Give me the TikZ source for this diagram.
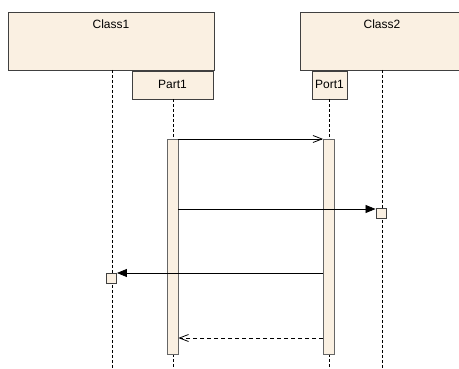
\documentclass[tikz,border=0pt]{standalone}
\usepackage{fontspec}
\setmainfont{Liberation Sans}
\usetikzlibrary{arrows.meta}
\definecolor{beige}{HTML}{FAF0E2}
\definecolor{edge}{HTML}{404040}
\begin{document}
\begin{tikzpicture}[x=1pt,y=-1pt,
  box/.style={draw=edge,fill=beige,line width=0.9pt,inner sep=0pt},
  bar/.style={draw=edge!80,fill=beige,line width=0.8pt},
  life/.style={dashed,dash pattern=on 3pt off 2pt,line width=0.7pt},
  msg/.style={line width=0.8pt},
  opena/.style={-{Straight Barb[length=9pt,width=7pt,line width=0.8pt]}},
  filla/.style={-{Triangle[length=10pt,width=8pt]}},
  lbl/.style={font=\fontsize{12}{14}\selectfont}]
\useasboundingbox (0,0) rectangle (459,369);
\fill[white] (0,0) rectangle (459,369);
% class boxes
\draw[box] (8,12) rectangle (214,70);
\node[lbl] (c1) at (111,24) {Class1};
\draw[box] (300,12) rectangle (466,70);
\node[lbl] (c2) at (382,24) {Class2};
\draw[box] (132,71) rectangle (213,99);
\node[lbl] (p1) at (172.5,84) {Part1};
\draw[box] (312,71) rectangle (347,99);
\node[lbl] (pt1) at (329.5,84) {Port1};
% lifeline coordinates
\coordinate (l1t) at (112,70);
\coordinate (l1b) at (112,369);
\coordinate (l2t) at (173,99);
\coordinate (l2b) at (173,369);
\coordinate (l3t) at (329,99);
\coordinate (l3b) at (329,369);
\coordinate (l4t) at (382,70);
\coordinate (l4b) at (382,369);
\draw[life] (l1t) -- (l1b);
\draw[life] (l2t) -- (l2b);
\draw[life] (l3t) -- (l3b);
\draw[life] (l4t) -- (l4b);
% activation bars
\node[bar,minimum width=11pt,minimum height=215pt,inner sep=0pt,anchor=north] (a1) at (172.5,139) {};
\node[bar,minimum width=11pt,minimum height=215pt,inner sep=0pt,anchor=north] (a2) at (329,139) {};
% small endpoint boxes
\node[box,minimum width=10pt,minimum height=10pt] (e2) at (381,213) {};
\node[box,minimum width=10pt,minimum height=10pt] (e1) at (111.5,278.5) {};
% messages
\draw[msg,opena] (a1.north east) -- (a2.north west);
\draw[msg,filla] (a1.east |- 0,209) -- (e2.west |- 0,209);
\draw[msg,filla] (a2.west |- 0,273) -- (e1.east |- 0,273);
\draw[msg,opena,dashed,dash pattern=on 4pt off 3pt] (a2.west |- 0,338) -- (a1.east |- 0,338);
\end{tikzpicture}
\end{document}
